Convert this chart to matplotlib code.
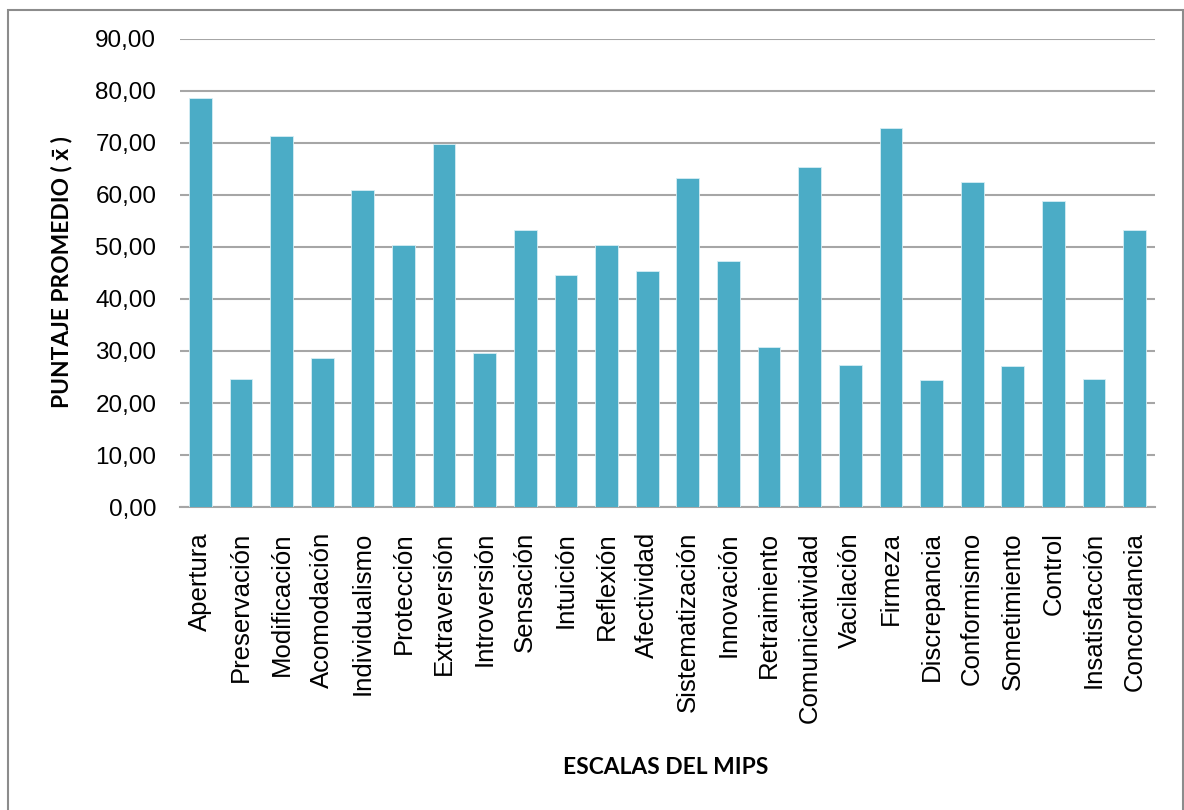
import matplotlib
matplotlib.use('Agg')
import matplotlib.pyplot as plt
from matplotlib.patches import Rectangle

escalas = ['Apertura', 'Preservación', 'Modificación', 'Acomodación',
           'Individualismo', 'Protección', 'Extraversión', 'Introversión',
           'Sensación', 'Intuición', 'Reflexión', 'Afectividad',
           'Sistematización', 'Innovación', 'Retraimiento', 'Comunicatividad',
           'Vacilación', 'Firmeza', 'Discrepancia', 'Conformismo',
           'Sometimiento', 'Control', 'Insatisfacción', 'Concordancia']
puntajes = [78.7, 24.6, 71.4, 28.6, 61.0, 50.4, 69.7, 29.6, 53.2, 44.6, 50.4, 45.3,
            63.3, 47.3, 30.7, 65.3, 27.3, 72.9, 24.4, 62.5, 27.1, 58.8, 24.6, 53.2]
y_ticks = [0, 10, 20, 30, 40, 50, 60, 70, 80, 90]

bar_color = '#4BACC6'
grid_color = '#A6A6A6'

fig = plt.figure(figsize=(11.84, 8.1), dpi=100)
ax = fig.add_axes([0.152, 0.374, 0.8235, 0.578])

x = list(range(len(escalas)))
ax.bar(x, puntajes, width=0.56, color=bar_color, edgecolor='#D6EEF4',
       linewidth=0.6, zorder=3)

ax.set_xlim(-0.5, len(escalas) - 0.5)
ax.set_ylim(0, 90)
ax.set_yticks(y_ticks)
ax.set_yticklabels([f'{v:.2f}'.replace('.', ',') for v in y_ticks],
                   family='Liberation Sans', fontsize=17.5)
ax.set_xticks(x)
ax.set_xticklabels(escalas, rotation=90, family='Liberation Sans', fontsize=18.5)
ax.tick_params(axis='y', length=0, pad=17)
ax.tick_params(axis='x', length=0, pad=18)

ax.yaxis.grid(True, color=grid_color, linewidth=1.5, zorder=0)
for s in ['top', 'right', 'left']:
    ax.spines[s].set_visible(False)
ax.spines['bottom'].set_color(grid_color)
ax.spines['bottom'].set_linewidth(1.5)

fig.text(62 / 1184, 1 - 272 / 810, 'PUNTAJE PROMEDIO ( x\u0304 )', rotation=90,
         ha='center', va='center', fontsize=16.4, fontweight='bold',
         family=['Lato', 'DejaVu Sans'])
fig.text(666 / 1184, 1 - 767 / 810, 'ESCALAS DEL MIPS', ha='center',
         va='center', fontsize=16.4, fontweight='bold', family=['Lato', 'DejaVu Sans'])

# outer frame like the Excel chart area
fig.patches.append(Rectangle((8 / 1184, -0.05), 1175 / 1184, 1.05 - 10 / 810,
                             transform=fig.transFigure, fill=False,
                             edgecolor='#8C8C8C', linewidth=1.5))

fig.savefig('out.png', dpi=100)
